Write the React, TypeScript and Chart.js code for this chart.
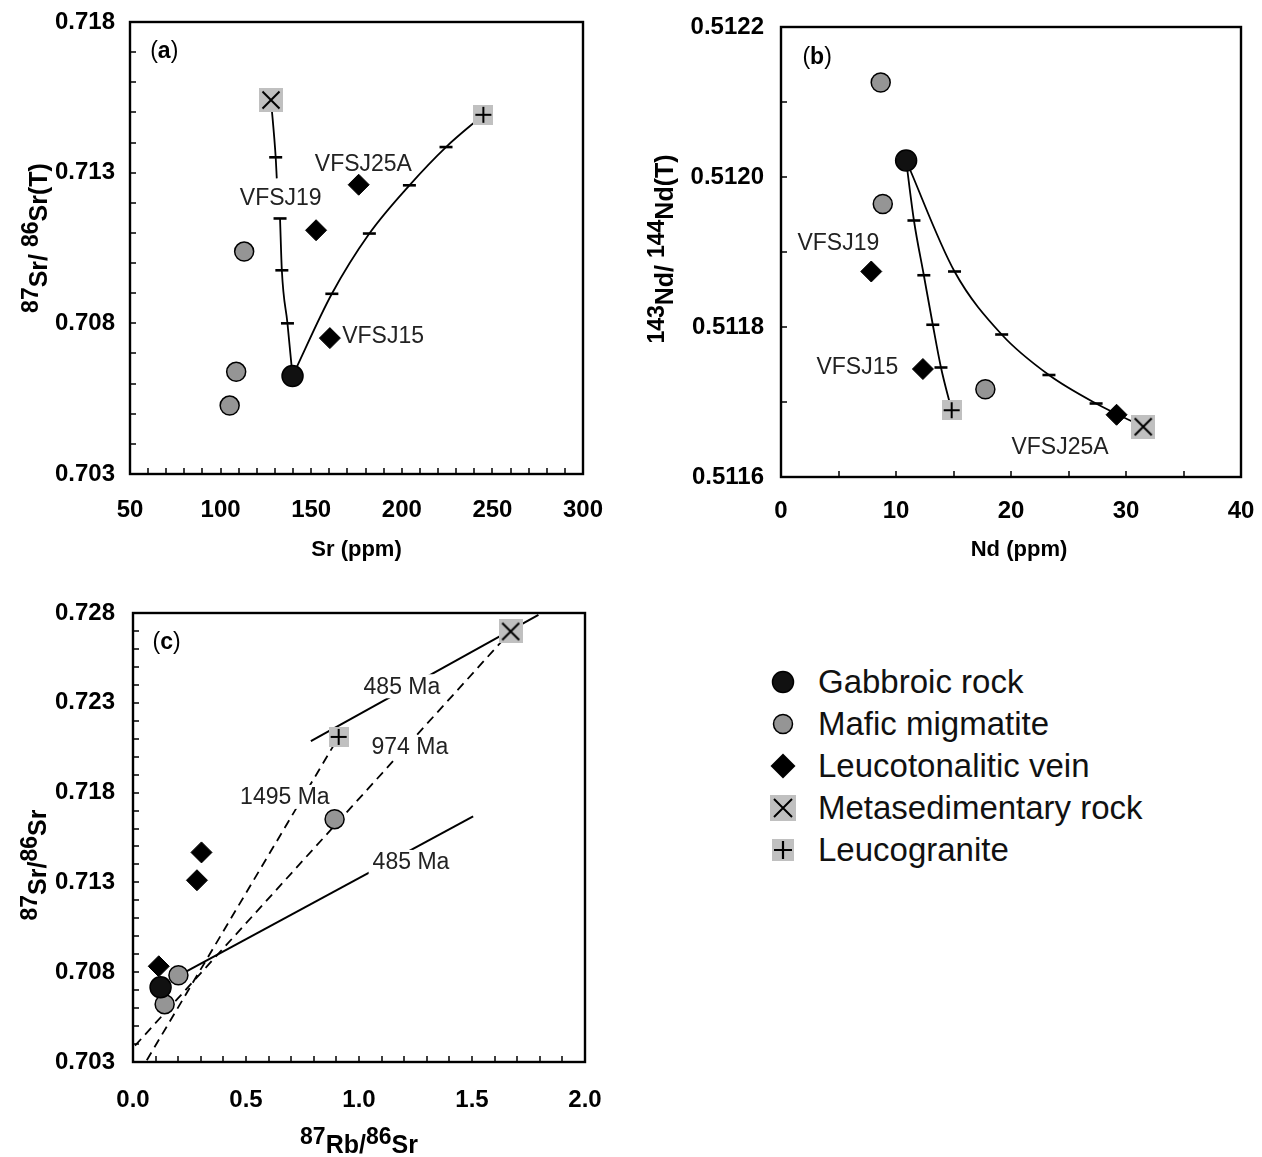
import React, { useEffect, useRef } from 'react';
import { Chart, registerables } from 'chart.js';

Chart.register(...registerables);

const FONT = '"Liberation Sans", Arial, Helvetica, sans-serif';

// ================= Panel (a): 87Sr/86Sr(T) vs Sr (ppm) =================
const aGabbro = [{ x: 139.7, y: 0.70625 }];
const aMafic = [
  { x: 113.0, y: 0.71038 },
  { x: 108.6, y: 0.70639 },
  { x: 105.0, y: 0.70527 },
];
const aVein = [
  { x: 176.2, y: 0.7126 },
  { x: 152.7, y: 0.71109 },
  { x: 160.3, y: 0.70751 },
];
const aMetased = [{ x: 127.8, y: 0.71541 }];
const aLeucogranite = [{ x: 245.0, y: 0.71492 }];
const aMixMetasedLower = [
  { x: 139.7, y: 0.70625 },
  { x: 136.9, y: 0.708 },
  { x: 133.8, y: 0.70976 },
  { x: 132.8, y: 0.71148 },
];
const aMixMetasedUpper = [
  { x: 131.0, y: 0.71281 },
  { x: 130.4, y: 0.71351 },
  { x: 127.8, y: 0.71541 },
];
const aMixLeucogranite = [
  { x: 139.7, y: 0.70625 },
  { x: 161.4, y: 0.70898 },
  { x: 182.1, y: 0.71098 },
  { x: 204.2, y: 0.71258 },
  { x: 224.4, y: 0.71385 },
  { x: 245.0, y: 0.71492 },
];
const aXTicks = [50, 100, 150, 200, 250, 300];
const aYTicks = [0.703, 0.708, 0.713, 0.718];
const aSampleLabels = [
  { text: 'VFSJ25A', x: 178.8, y: 0.71331 },
  { text: 'VFSJ19', x: 133.2, y: 0.71216 },
  { text: 'VFSJ15', x: 189.7, y: 0.70759 },
];

// ================= Panel (b): 143Nd/144Nd(T) vs Nd (ppm) =================
const bGabbro = [{ x: 10.88, y: 0.512022 }];
const bMafic = [
  { x: 8.67, y: 0.512126 },
  { x: 8.85, y: 0.511964 },
  { x: 17.77, y: 0.511717 },
];
const bVein = [
  { x: 7.85, y: 0.511874 },
  { x: 12.34, y: 0.511744 },
  { x: 29.18, y: 0.511683 },
];
const bMetased = [{ x: 31.5, y: 0.511667 }];
const bLeucogranite = [{ x: 14.84, y: 0.511689 }];
const bMixLeucogranite = [
  { x: 10.88, y: 0.512022 },
  { x: 11.56, y: 0.511942 },
  { x: 12.42, y: 0.511869 },
  { x: 13.2, y: 0.511803 },
  { x: 13.91, y: 0.511746 },
  { x: 14.84, y: 0.511689 },
];
const bMixMetased = [
  { x: 10.88, y: 0.512022 },
  { x: 15.09, y: 0.511874 },
  { x: 19.19, y: 0.51179 },
  { x: 23.3, y: 0.511736 },
  { x: 27.4, y: 0.511698 },
  { x: 31.5, y: 0.511667 },
];
const bXTicks = [0, 10, 20, 30, 40];
const bYTicks = [0.5116, 0.5118, 0.512, 0.5122];
const bSampleLabels = [
  { text: 'VFSJ19', x: 4.99, y: 0.511913 },
  { text: 'VFSJ15', x: 6.64, y: 0.511747 },
  { text: 'VFSJ25A', x: 24.26, y: 0.511641 },
];

// ================= Panel (c): 87Sr/86Sr vs 87Rb/86Sr =================
const cGabbro = [{ x: 0.122, y: 0.70716 }];
const cMafic = [
  { x: 0.892, y: 0.71652 },
  { x: 0.201, y: 0.70783 },
  { x: 0.14, y: 0.70622 },
];
const cVein = [
  { x: 0.303, y: 0.71467 },
  { x: 0.283, y: 0.71312 },
  { x: 0.114, y: 0.70833 },
];
const cMetased = [{ x: 1.671, y: 0.72697 }];
const cLeucogranite = [{ x: 0.91, y: 0.7211 }];
const cIsochron485Upper = [
  { x: 0.787, y: 0.72086 },
  { x: 1.794, y: 0.7279 },
];
const cIsochron485Lower = [
  { x: 0.21, y: 0.70787 },
  { x: 1.505, y: 0.71668 },
];
const cRef1495 = [
  { x: 0.061, y: 0.7031 },
  { x: 0.91, y: 0.7211 },
];
const cRef974 = [
  { x: 0.009, y: 0.70391 },
  { x: 1.671, y: 0.72697 },
];
const cXTicks = [0, 0.5, 1.0, 1.5, 2.0];
const cYTicks = [0.703, 0.708, 0.713, 0.718, 0.723, 0.728];
const cAgeLabels = [
  { text: '485 Ma', x: 1.19, y: 0.72392 },
  { text: '974 Ma', x: 1.225, y: 0.72054 },
  { text: '1495 Ma', x: 0.672, y: 0.71776 },
  { text: '485 Ma', x: 1.23, y: 0.71414 },
];

const legendNames = [
  'Gabbroic rock',
  'Mafic migmatite',
  'Leucotonalitic vein',
  'Metasedimentary rock',
  'Leucogranite',
];

// ---------------------------------------------------------------------
type Part = { t: string; sup?: boolean; bold?: boolean; size?: number };

function makeSquareMark(side: number, kind: string, arm: number) {
  const c = document.createElement('canvas');
  c.width = side;
  c.height = side;
  const g = c.getContext('2d') as CanvasRenderingContext2D;
  g.fillStyle = '#c0c0c0';
  g.fillRect(0, 0, side, side);
  g.strokeStyle = '#000';
  g.lineWidth = 2;
  const m = side / 2;
  g.beginPath();
  if (kind === 'x') {
    g.moveTo(m - arm, m - arm);
    g.lineTo(m + arm, m + arm);
    g.moveTo(m + arm, m - arm);
    g.lineTo(m - arm, m + arm);
  } else {
    g.moveTo(m - arm, m);
    g.lineTo(m + arm, m);
    g.moveTo(m, m - arm);
    g.lineTo(m, m + arm);
  }
  g.stroke();
  return c;
}

function drawParts(
  ctx: CanvasRenderingContext2D,
  parts: Part[],
  cx: number,
  cy: number,
  rotate: boolean,
  size: number,
  supSize: number,
  raise: number,
  bold: boolean,
  baseline: CanvasTextBaseline
) {
  ctx.save();
  ctx.translate(cx, cy);
  if (rotate) ctx.rotate(-Math.PI / 2);
  ctx.textAlign = 'left';
  ctx.textBaseline = baseline;
  const fonts = parts.map((p) => {
    const b = p.bold !== undefined ? p.bold : bold;
    const s = p.size || (p.sup ? supSize : size);
    return `${b ? 'bold ' : ''}${s}px ${FONT}`;
  });
  const widths = parts.map((p, i) => {
    ctx.font = fonts[i];
    return ctx.measureText(p.t).width;
  });
  const total = widths.reduce((s, w) => s + w, 0);
  let x = -total / 2;
  parts.forEach((p, i) => {
    ctx.font = fonts[i];
    ctx.fillText(p.t, x, p.sup ? -raise : 0);
    x += widths[i];
  });
  ctx.restore();
}

function makeDecor(cfg: any) {
  return {
    id: 'decor',
    afterDatasetDraw(chart: any, args: any) {
      if (args.index !== cfg.labelAfter) return;
      const { ctx } = chart;
      const xs = chart.scales.x;
      const ys = chart.scales.y;
      ctx.save();
      ctx.font = `23px ${FONT}`;
      ctx.textAlign = 'center';
      ctx.textBaseline = 'middle';
      cfg.labels.forEach((l: any) => {
        const px = xs.getPixelForValue(l.x);
        const py = ys.getPixelForValue(l.y);
        const w = ctx.measureText(l.text).width;
        if (cfg.labelBg) {
          ctx.fillStyle = '#fff';
          ctx.fillRect(px - w / 2 - 4, py - 12, w + 8, 24);
        }
        ctx.fillStyle = '#222';
        ctx.fillText(l.text, px, py + 1);
      });
      ctx.restore();
    },
    afterDraw(chart: any) {
      const { ctx, chartArea: a } = chart;
      const xs = chart.scales.x;
      const ys = chart.scales.y;
      ctx.save();
      ctx.strokeStyle = '#000';
      ctx.lineWidth = 1.5;
      ctx.beginPath();
      const nx = Math.round((xs.max - xs.min) / cfg.xStep);
      for (let i = 1; i < nx; i++) {
        const px = Math.round(xs.getPixelForValue(xs.min + i * cfg.xStep));
        ctx.moveTo(px, a.bottom);
        ctx.lineTo(px, a.bottom - 6);
      }
      const ny = Math.round((ys.max - ys.min) / cfg.yStep);
      for (let i = 1; i < ny; i++) {
        const py = Math.round(ys.getPixelForValue(ys.min + i * cfg.yStep));
        ctx.moveTo(a.left, py);
        ctx.lineTo(a.left + 6, py);
      }
      ctx.stroke();
      ctx.lineWidth = 2.4;
      ctx.strokeRect(a.left, a.top, a.right - a.left, a.bottom - a.top);
      ctx.fillStyle = '#000';
      // panel tag
      const tg = cfg.tag;
      drawParts(
        ctx,
        [{ t: '(' }, { t: tg.letter, bold: true }, { t: ')' }],
        xs.getPixelForValue(tg.x),
        ys.getPixelForValue(tg.y),
        false,
        23,
        23,
        0,
        false,
        'middle'
      );
      // axis titles
      const xt = cfg.xTitle;
      drawParts(ctx, xt.parts, (a.left + a.right) / 2 + (xt.dx || 0), xt.baseline, false, xt.size, 23, 9, true, 'alphabetic');
      const yt = cfg.yTitle;
      drawParts(ctx, yt.parts, yt.baseline, yt.cy, true, yt.size, 23, 9, true, 'alphabetic');
      ctx.restore();
    },
  };
}

function markerSets(g: any[], m: any[], v: any[], ms: any[], lg: any[]) {
  const markX = makeSquareMark(24, 'x', 8.5);
  const markPlus = makeSquareMark(20, '+', 8);
  return [
    { data: g, pointStyle: 'circle', pointRadius: 10.5, pointBackgroundColor: '#111', pointBorderColor: '#000', pointBorderWidth: 1.5 },
    { data: m, pointStyle: 'circle', pointRadius: 9.5, pointBackgroundColor: '#959595', pointBorderColor: '#000', pointBorderWidth: 1.5 },
    { data: v, pointStyle: 'rectRot', pointRadius: 10.5, pointBackgroundColor: '#000', pointBorderColor: '#000', pointBorderWidth: 1 },
    { data: ms, pointStyle: markX, pointRadius: 12 },
    { data: lg, pointStyle: markPlus, pointRadius: 10 },
  ];
}

function mixCurve(data: any[], radii: number[]) {
  return {
    data,
    showLine: true,
    borderColor: '#000',
    borderWidth: 1.8,
    cubicInterpolationMode: 'monotone',
    pointStyle: 'line',
    pointRadius: radii,
    pointBorderColor: '#000',
    pointBackgroundColor: '#000',
    pointBorderWidth: 2.6,
  };
}

function straight(data: any[], dashed: boolean) {
  return {
    data,
    showLine: true,
    borderColor: '#000',
    borderWidth: dashed ? 1.8 : 2,
    borderDash: dashed ? [9, 6] : [],
    tension: 0,
    pointRadius: 0,
  };
}

function axisScales(p: any) {
  const tickFont = { family: FONT, size: 24, weight: 'bold' };
  return {
    x: {
      type: 'linear',
      min: p.xMin,
      max: p.xMax,
      afterBuildTicks: (s: any) => {
        s.ticks = p.xTicks.map((v: number) => ({ value: v }));
      },
      afterFit: (s: any) => {
        s.height = p.xHeight;
        s.paddingLeft = 0;
        s.paddingRight = 0;
        s.paddingTop = 0;
        s.paddingBottom = 0;
      },
      grid: { display: false, drawTicks: false },
      border: { display: false },
      ticks: {
        autoSkip: false,
        maxRotation: 0,
        padding: p.xPad,
        color: '#000',
        font: tickFont,
        callback: (v: any) => Number(v).toFixed(p.xDec),
      },
    },
    y: {
      type: 'linear',
      min: p.yMin,
      max: p.yMax,
      afterBuildTicks: (s: any) => {
        s.ticks = p.yTicks.map((v: number) => ({ value: v }));
      },
      afterFit: (s: any) => {
        s.width = p.yWidth;
        s.paddingLeft = 0;
        s.paddingRight = 0;
        s.paddingTop = 0;
        s.paddingBottom = 0;
      },
      grid: { display: false, drawTicks: false },
      border: { display: false },
      ticks: {
        autoSkip: false,
        padding: p.yPad,
        color: '#000',
        font: tickFont,
        callback: (v: any) => Number(v).toFixed(p.yDec),
      },
    },
  };
}

function baseConfig(datasets: any[], scales: any, padding: any, decor: any) {
  return {
    type: 'scatter',
    data: { datasets },
    options: {
      responsive: false,
      maintainAspectRatio: false,
      devicePixelRatio: 1,
      animation: false,
      events: [],
      layout: { padding },
      plugins: { legend: { display: false }, tooltip: { enabled: false } },
      scales,
    },
    plugins: [decor],
  };
}

function buildA() {
  const datasets = [
    ...markerSets(aGabbro, aMafic, aVein, aMetased, aLeucogranite),
    mixCurve(aMixMetasedLower, [0, 6.5, 6.5, 6.5]),
    mixCurve(aMixMetasedUpper, [0, 6.5, 0]),
    mixCurve(aMixLeucogranite, [0, 6.5, 6.5, 6.5, 6.5, 0]),
  ];
  const scales = axisScales({
    xMin: 50, xMax: 300, yMin: 0.703, yMax: 0.718,
    xTicks: aXTicks, yTicks: aYTicks, xDec: 0, yDec: 3,
    xHeight: 106, yWidth: 130, xPad: 22, yPad: 15,
  });
  const decor = makeDecor({
    xStep: 10, yStep: 0.001, labelAfter: 5, labelBg: false,
    labels: aSampleLabels,
    tag: { letter: 'a', x: 68.9, y: 0.717 },
    xTitle: { parts: [{ t: 'Sr (ppm)' }], baseline: 556, size: 22 },
    yTitle: {
      parts: [{ t: '87', sup: true }, { t: 'Sr/ ' }, { t: '86', sup: true }, { t: 'Sr(T)' }],
      baseline: 47, cy: 238, size: 25,
    },
  });
  return baseConfig(datasets, scales, { left: 0, top: 22, right: 47, bottom: 0 }, decor);
}

function buildB() {
  const datasets = [
    ...markerSets(bGabbro, bMafic, bVein, bMetased, bLeucogranite),
    mixCurve(bMixLeucogranite, [0, 6.5, 6.5, 6.5, 6.5, 0]),
    mixCurve(bMixMetased, [0, 6.5, 6.5, 6.5, 6.5, 0]),
  ];
  const scales = axisScales({
    xMin: 0, xMax: 40, yMin: 0.5116, yMax: 0.5122,
    xTicks: bXTicks, yTicks: bYTicks, xDec: 0, yDec: 4,
    xHeight: 103, yWidth: 141, xPad: 20, yPad: 17,
  });
  const decor = makeDecor({
    xStep: 5, yStep: 0.0001, labelAfter: 5, labelBg: false,
    labels: bSampleLabels,
    tag: { letter: 'b', x: 3.14, y: 0.5121586 },
    xTitle: { parts: [{ t: 'Nd (ppm)' }], baseline: 556, size: 22, dx: 8 },
    yTitle: {
      parts: [{ t: '143', sup: true }, { t: 'Nd/ ' }, { t: '144', sup: true }, { t: 'Nd(T)' }],
      baseline: 33, cy: 249, size: 25,
    },
  });
  return baseConfig(datasets, scales, { left: 0, top: 27, right: 21, bottom: 0 }, decor);
}

function buildC() {
  const datasets = [
    ...markerSets(cGabbro, cMafic, cVein, cMetased, cLeucogranite),
    straight(cIsochron485Upper, false),
    straight(cIsochron485Lower, false),
    straight(cRef1495, true),
    straight(cRef974, true),
  ];
  const scales = axisScales({
    xMin: 0, xMax: 2, yMin: 0.703, yMax: 0.728,
    xTicks: cXTicks, yTicks: cYTicks, xDec: 1, yDec: 3,
    xHeight: 95, yWidth: 133, xPad: 24, yPad: 18,
  });
  const decor = makeDecor({
    xStep: 0.1, yStep: 0.001, labelAfter: 5, labelBg: true,
    labels: cAgeLabels,
    tag: { letter: 'c', x: 0.149, y: 0.72637 },
    xTitle: {
      parts: [{ t: '87', sup: true }, { t: 'Rb/' }, { t: '86', sup: true }, { t: 'Sr' }],
      baseline: 563, size: 25,
    },
    yTitle: {
      parts: [{ t: '87', sup: true }, { t: 'Sr/' }, { t: '86', sup: true }, { t: 'Sr' }],
      baseline: 46, cy: 275, size: 25,
    },
  });
  return baseConfig(datasets, scales, { left: 0, top: 23, right: 45, bottom: 0 }, decor);
}

function Panel(props: { left: number; top: number; width: number; height: number; build: () => any }) {
  const ref = useRef<HTMLCanvasElement>(null);
  useEffect(() => {
    const chart = new Chart(ref.current as HTMLCanvasElement, props.build());
    return () => chart.destroy();
  }, []);
  return (
    <canvas
      ref={ref}
      width={props.width}
      height={props.height}
      style={{ position: 'absolute', left: props.left, top: props.top, width: props.width, height: props.height }}
    />
  );
}

function LegendMark({ i }: { i: number }) {
  if (i === 0)
    return (
      <svg width={28} height={28}>
        <circle cx={14} cy={14} r={10.5} fill="#111" stroke="#000" strokeWidth={1.5} />
      </svg>
    );
  if (i === 1)
    return (
      <svg width={28} height={28}>
        <circle cx={14} cy={14} r={9.5} fill="#959595" stroke="#000" strokeWidth={1.5} />
      </svg>
    );
  if (i === 2)
    return (
      <svg width={28} height={28}>
        <polygon points="14,1.5 26.5,14 14,26.5 1.5,14" fill="#000" />
      </svg>
    );
  if (i === 3)
    return (
      <svg width={28} height={28}>
        <rect x={1} y={1} width={26} height={26} fill="#c0c0c0" />
        <path d="M5,5 L23,23 M23,5 L5,23" stroke="#000" strokeWidth={2} />
      </svg>
    );
  return (
    <svg width={28} height={28}>
      <rect x={3} y={3} width={22} height={22} fill="#c0c0c0" />
      <path d="M5,14 L23,14 M14,5 L14,23" stroke="#000" strokeWidth={2.2} />
    </svg>
  );
}

const legendRowY = [682, 724, 766, 808, 850];

function Legend() {
  return (
    <>
      {legendNames.map((name, i) => (
        <div
          key={name}
          style={{
            position: 'absolute',
            left: 769,
            top: legendRowY[i] - 20,
            height: 40,
            display: 'flex',
            alignItems: 'center',
            whiteSpace: 'nowrap',
          }}
        >
          <LegendMark i={i} />
          <span style={{ marginLeft: 21, fontFamily: FONT, fontSize: 33, color: '#111', lineHeight: '40px' }}>{name}</span>
        </div>
      ))}
    </>
  );
}

export default function App() {
  return (
    <div style={{ position: 'absolute', left: 0, top: 0, width: 1262, height: 1157, background: '#fff', overflow: 'hidden' }}>
      <Panel left={0} top={0} width={630} height={580} build={buildA} />
      <Panel left={640} top={0} width={622} height={580} build={buildB} />
      <Panel left={0} top={590} width={630} height={567} build={buildC} />
      <Legend />
    </div>
  );
}
